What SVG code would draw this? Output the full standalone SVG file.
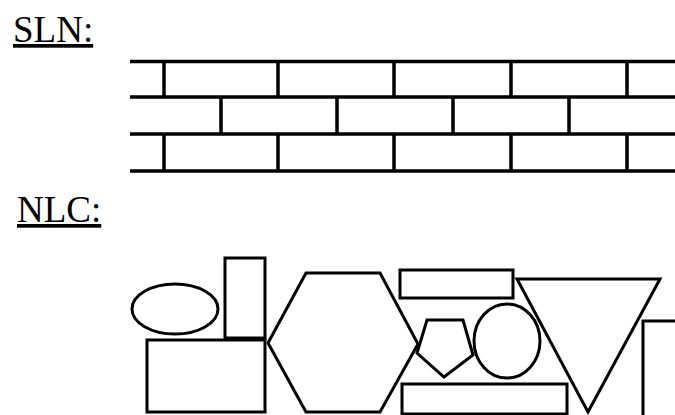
<svg xmlns="http://www.w3.org/2000/svg" width="675" height="415" viewBox="0 0 675 415">
<style>
.lbl{font-family:"Liberation Serif","Times New Roman",serif;font-size:37px;fill:#000;text-decoration:underline;}
.ln{stroke:#000;stroke-width:3.5;fill:none;}
.sh{stroke:#000;stroke-width:3;fill:none;}
</style>
<rect width="675" height="415" fill="#fff"/>
<g id="sln-label"><text class="lbl" x="13" y="42">SLN:</text></g>
<g id="nlc-label"><text class="lbl" x="17" y="222">NLC:</text></g>
<g id="wall">
<path class="ln" d="M130 61.5H675M130 97H675M130 134H675M130 171H675"/>
<path class="ln" d="M164 61.5V97M278 61.5V97M394 61.5V97M511 61.5V97M627 61.5V97"/>
<path class="ln" d="M221 97V134M337 97V134M453 97V134M569 97V134"/>
<path class="ln" d="M164 134V171M278 134V171M394 134V171M511 134V171M627 134V171"/>
</g>
<g id="ellipse"><ellipse class="sh" cx="175" cy="309" rx="43" ry="25"/></g>
<g id="tall-rect"><rect class="sh" x="225" y="258" width="40" height="80"/></g>
<g id="big-rect"><rect class="sh" x="147" y="340" width="118" height="72"/></g>
<g id="hexagon"><polygon class="sh" points="268,343 306,273 380,273 418,344 380,412 306,412"/></g>
<g id="top-rect"><rect class="sh" x="400" y="270" width="113" height="28"/></g>
<g id="pentagon"><polygon class="sh" points="427,320 463,320 473,355 444,377 417,353"/></g>
<g id="circle"><ellipse class="sh" cx="507" cy="341" rx="33" ry="37"/></g>
<g id="bottom-rect"><rect class="sh" x="402" y="384" width="165" height="30"/></g>
<g id="triangle"><polygon class="sh" points="517,279 660,279 588,412"/></g>
<g id="right-rect"><rect class="sh" x="643" y="321" width="50" height="100"/></g>
</svg>
